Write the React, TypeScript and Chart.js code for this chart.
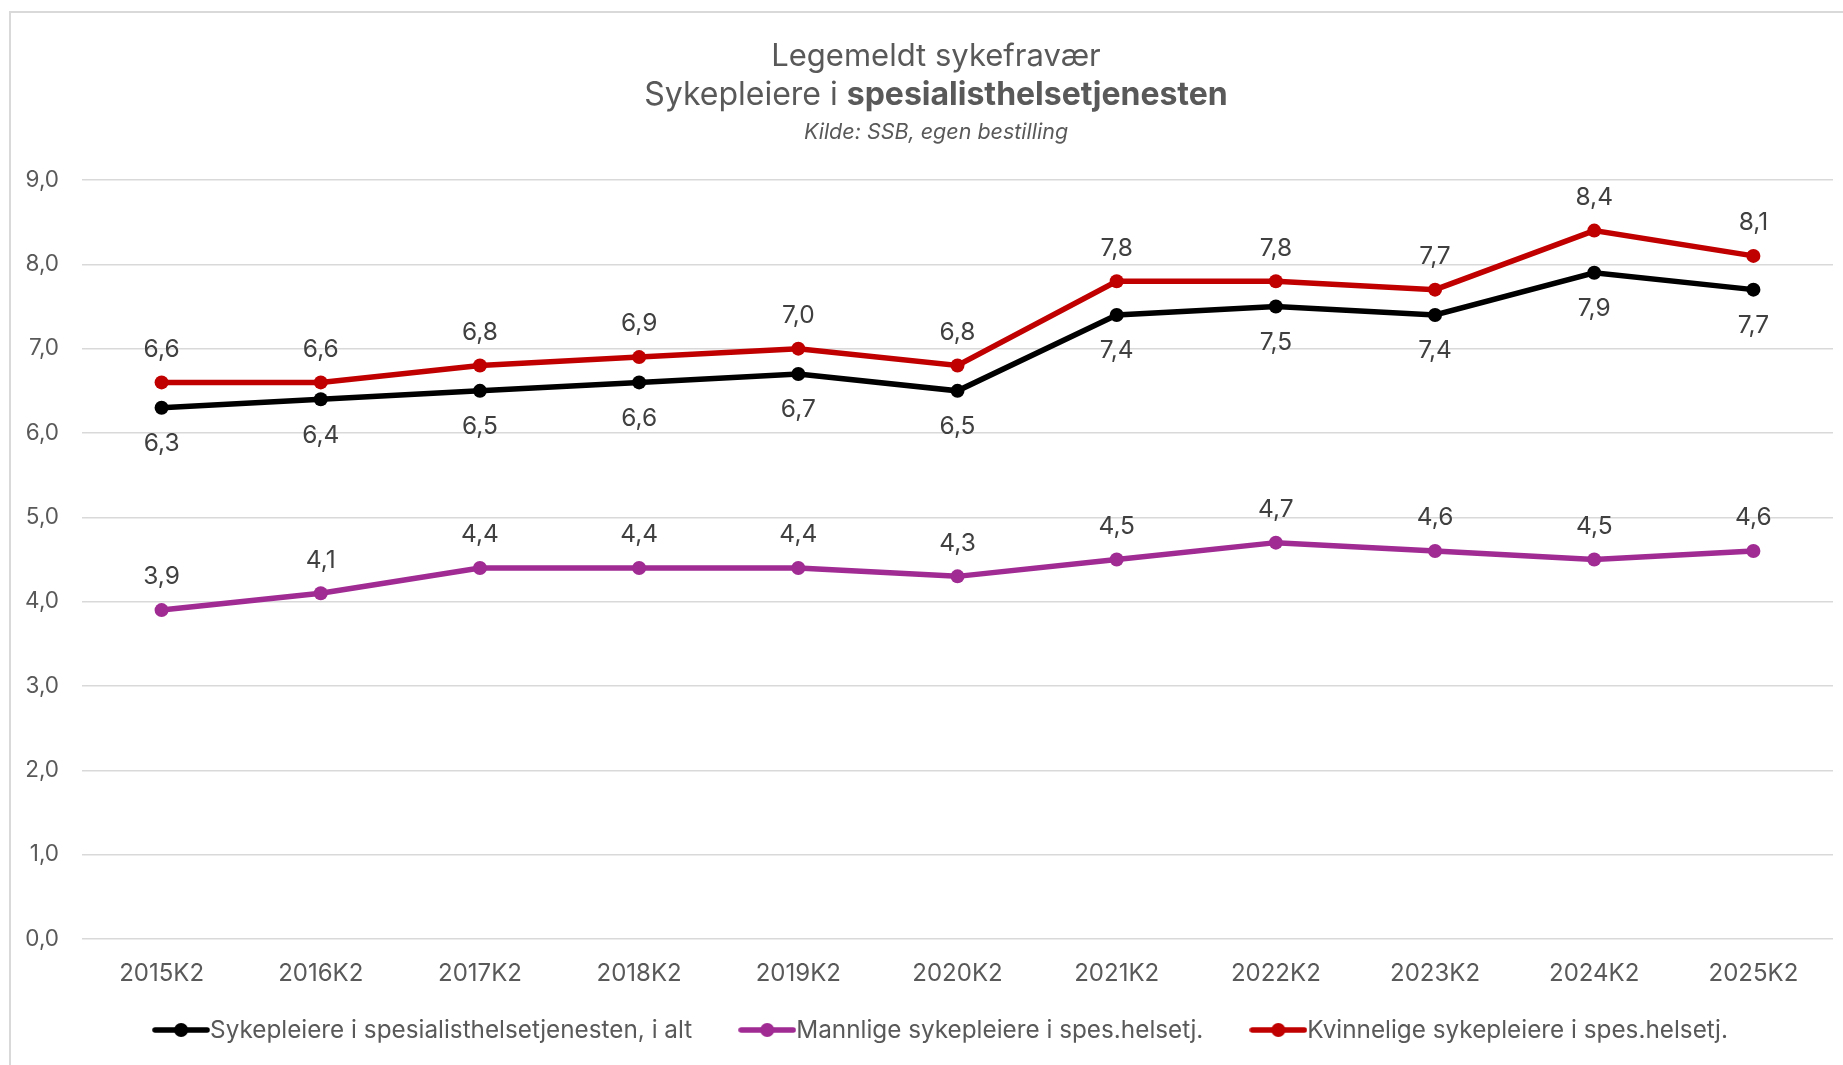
import { useEffect, useRef } from "react";
import { Chart, registerables } from "chart.js";

Chart.register(...registerables);

const categories = [
  "2015K2", "2016K2", "2017K2", "2018K2", "2019K2", "2020K2",
  "2021K2", "2022K2", "2023K2", "2024K2", "2025K2",
];
const totalValues = [6.3, 6.4, 6.5, 6.6, 6.7, 6.5, 7.4, 7.5, 7.4, 7.9, 7.7];
const maleValues = [3.9, 4.1, 4.4, 4.4, 4.4, 4.3, 4.5, 4.7, 4.6, 4.5, 4.6];
const femaleValues = [6.6, 6.6, 6.8, 6.9, 7.0, 6.8, 7.8, 7.8, 7.7, 8.4, 8.1];
const seriesNames = [
  "Sykepleiere i spesialisthelsetjenesten, i alt",
  "Mannlige sykepleiere i spes.helsetj.",
  "Kvinnelige sykepleiere i spes.helsetj.",
];
const seriesColors = ["#000000", "#a02b93", "#c00000"];
const labelSides = ["below", "above", "above"];
const titleLine1 = "Legemeldt sykefravær";
const titleLine2Regular = "Sykepleiere i ";
const titleLine2Bold = "spesialisthelsetjenesten";
const subtitleText = "Kilde: SSB, egen bestilling";
const yMin = 0;
const yMax = 9;
const yStep = 1;

const FONT = "Inter, 'Open Sans', sans-serif";
const fmt = (v: number) => v.toFixed(1).replace(".", ",");

function makeLegendImage(color: string) {
  const c = document.createElement("canvas");
  c.width = 58;
  c.height = 16;
  const ctx = c.getContext("2d")!;
  ctx.strokeStyle = color;
  ctx.lineWidth = 5.5;
  ctx.lineCap = "round";
  ctx.beginPath();
  ctx.moveTo(3, 8);
  ctx.lineTo(55, 8);
  ctx.stroke();
  ctx.fillStyle = color;
  ctx.beginPath();
  ctx.arc(29, 8, 7, 0, Math.PI * 2);
  ctx.fill();
  return c;
}

const framePlugin = {
  id: "frame",
  beforeDraw(chart: any) {
    const ctx = chart.ctx;
    ctx.save();
    ctx.strokeStyle = "#d9d9d9";
    ctx.lineWidth = 2;
    ctx.beginPath();
    ctx.moveTo(10, chart.height);
    ctx.lineTo(10, 12);
    ctx.lineTo(chart.width, 12);
    ctx.stroke();
    ctx.restore();
  },
};

const titlePlugin = {
  id: "customTitle",
  afterDraw(chart: any) {
    const ctx = chart.ctx;
    const cx = 936;
    ctx.save();
    ctx.fillStyle = "#595959";
    ctx.textBaseline = "alphabetic";
    ctx.textAlign = "left";
    ctx.font = `31px ${FONT}`;
    const w0 = ctx.measureText(titleLine1).width;
    ctx.fillText(titleLine1, cx - w0 / 2, 66);
    ctx.font = `32px ${FONT}`;
    const w1 = ctx.measureText(titleLine2Regular).width;
    ctx.font = `bold 32px ${FONT}`;
    const w2 = ctx.measureText(titleLine2Bold).width;
    const start = cx - (w1 + w2) / 2;
    ctx.font = `32px ${FONT}`;
    ctx.fillText(titleLine2Regular, start, 105);
    ctx.font = `bold 32px ${FONT}`;
    ctx.fillText(titleLine2Bold, start + w1, 105);
    ctx.font = `italic 21.5px ${FONT}`;
    const w3 = ctx.measureText(subtitleText).width;
    ctx.fillText(subtitleText, cx - w3 / 2, 139);
    ctx.restore();
  },
};

const legendPlugin = {
  id: "customLegend",
  afterDraw(chart: any) {
    const ctx = chart.ctx;
    const images = (chart as any)._legendImages as HTMLCanvasElement[];
    const markerW = 57;
    const gapText = 1;
    const gapItems = 46;
    const cx = 940;
    const cy = 1030;
    ctx.save();
    ctx.font = `24.3px ${FONT}`;
    ctx.fillStyle = "#595959";
    ctx.textBaseline = "middle";
    ctx.textAlign = "left";
    const widths = chart.data.datasets.map((d: any) => ctx.measureText(d.label).width);
    const total =
      widths.reduce((a: number, w: number) => a + markerW + gapText + w, 0) +
      gapItems * (widths.length - 1);
    let x = cx - total / 2;
    chart.data.datasets.forEach((d: any, i: number) => {
      const img = images[i];
      ctx.drawImage(img, x, cy - img.height / 2);
      ctx.fillText(d.label, x + markerW + gapText, cy + 1);
      x += markerW + gapText + widths[i] + gapItems;
    });
    ctx.restore();
  },
};

const dataLabelPlugin = {
  id: "dataLabels",
  afterDatasetsDraw(chart: any) {
    const ctx = chart.ctx;
    ctx.save();
    ctx.font = `24.5px ${FONT}`;
    ctx.fillStyle = "#404040";
    ctx.textAlign = "center";
    ctx.textBaseline = "middle";
    chart.data.datasets.forEach((ds: any, i: number) => {
      const meta = chart.getDatasetMeta(i);
      const off = labelSides[i] === "below" ? 36 : -33;
      meta.data.forEach((pt: any, j: number) => {
        ctx.fillText(fmt(ds.data[j]), pt.x, pt.y + off);
      });
    });
    ctx.restore();
  },
};

export default function App() {
  const ref = useRef<HTMLCanvasElement | null>(null);

  useEffect(() => {
    if (!ref.current) return;
    const legendImages = seriesColors.map(makeLegendImage);
    const seriesValues = [totalValues, maleValues, femaleValues];
    const chart = new Chart(ref.current, {
      type: "line",
      data: {
        labels: categories,
        datasets: seriesValues.map((vals, i) => ({
          label: seriesNames[i],
          data: vals,
          borderColor: seriesColors[i],
          backgroundColor: seriesColors[i],
          pointBackgroundColor: seriesColors[i],
          pointBorderColor: seriesColors[i],
          borderWidth: 5.5,
          pointRadius: 7,
          pointBorderWidth: 0,
          tension: 0,
          fill: false,
        })),
      },
      options: {
        animation: false,
        responsive: false,
        devicePixelRatio: 1,
        layout: { padding: { top: 180, left: 10, right: 10, bottom: 76 } },
        scales: {
          x: {
            offset: true,
            grid: { display: false, drawTicks: false },
            border: { display: false },
            ticks: {
              padding: 20,
              color: "#595959",
              font: { family: FONT, size: 24 },
              maxRotation: 0,
              autoSkip: false,
            },
            afterFit: (s: any) => {
              s.height = 50;
            },
          },
          y: {
            min: yMin,
            max: yMax,
            grid: { color: "#d9d9d9", lineWidth: 1.5, drawTicks: false },
            border: { display: false },
            ticks: {
              stepSize: yStep,
              padding: 23,
              color: "#595959",
              font: { family: FONT, size: 22.5 },
              callback: (v: any) => fmt(Number(v)),
            },
            afterFit: (s: any) => {
              s.width = 72;
            },
          },
        },
        plugins: {
          title: { display: false },
          tooltip: { enabled: false },
          legend: { display: false },
        },
      },
      plugins: [
        {
          id: "legendImages",
          beforeInit(c: any) {
            c._legendImages = legendImages;
          },
        },
        framePlugin,
        titlePlugin,
        dataLabelPlugin,
        legendPlugin,
      ],
    } as any);
    return () => chart.destroy();
  }, []);

  return (
    <div style={{ position: "fixed", left: 0, top: 0, width: 1843, height: 1065, background: "#fff" }}>
      <canvas ref={ref} width={1843} height={1065} style={{ display: "block" }} />
    </div>
  );
}
